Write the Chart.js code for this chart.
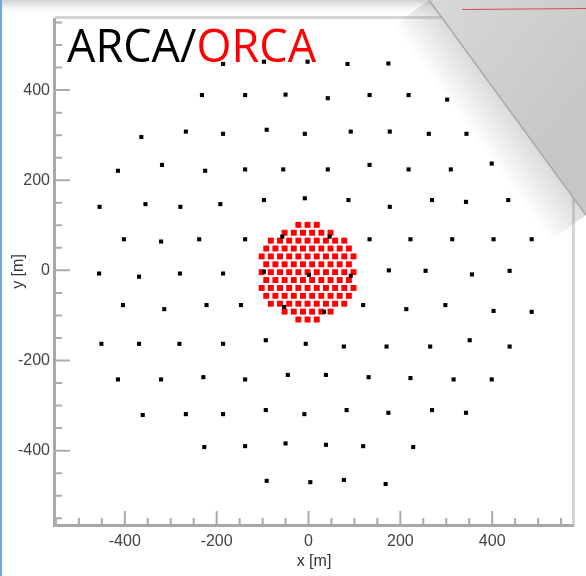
<!DOCTYPE html>
<html><head><meta charset="utf-8">
<script src="https://cdn.jsdelivr.net/npm/chart.js@4/dist/chart.umd.min.js"></script>
<style>html,body{margin:0;padding:0;background:#fff;overflow:hidden}#wrap{width:586px;height:576px;position:relative}</style>
</head><body><div id="wrap"><canvas id="c" width="586" height="576"></canvas></div>
<script>
// ARCA detection units (black), x and y in metres
const arcaX = [
  -186, -97, -2, 85, 174,
  -232, -138, -50, 42, 133, 218, 302,
  -364, -267, -186, -91, -8, 92, 177, 262, 344,
  -415, -319, -225, -138, -55, 42, 133, 218, 310, 399,
  -455, -355, -279, -192, -97, -8, 87, 177, 269, 343, 435,
  -402, -321, -238, -138, -57, 46, 133, 222, 313, 403, 486,
  -456, -369, -280, -186, -97, 1, 92, 175, 255, 356, 438,
  -404, -314, -222, -147, -53, 34, 119, 213, 298, 403, 486,
  -451, -369, -281, -186, -93, -6, 77, 170, 265, 351, 438,
  -415, -321, -229, -138, -45, 38, 131, 222, 316, 399,
  -361, -267, -186, -93, -9, 83, 174, 269, 343,
  -227, -138, -50, 38, 119, 228,
  -91, 4, 77, 168
];
const arcaY = [
  458, 463, 463, 458, 459,
  389, 389, 390, 382, 389, 389, 379,
  296, 308, 303, 312, 303, 308, 308, 303, 303,
  221, 234, 221, 224, 224, 224, 234, 224, 224, 237,
  141, 147, 141, 147, 156, 160, 156, 141, 156, 152, 156,
  69, 64, 69, 69, 75, 75, 69, 69, 69, 69, 69,
  -7, -14, -7, -7, -3, -10, -12, 0, -1, -9, -1,
  -77, -86, -77, -77, -81, -92, -77, -86, -77, -90, -92,
  -163, -163, -163, -163, -155, -163, -169, -169, -169, -155, -169,
  -242, -242, -237, -242, -232, -232, -237, -239, -242, -242,
  -321, -319, -319, -310, -319, -310, -316, -310, -316,
  -392, -390, -384, -387, -390, -392,
  -467, -470, -465, -474
];
// ORCA detection units (red), x and y in metres
const orcaX = [
  -22, -2, 18,
  -52, -32, -12, 8, 28, 48,
  -82, -62, -42, -22, -2, 18, 38, 58, 78,
  -92, -72, -52, -32, -12, 8, 28, 48, 68, 88,
  -102, -82, -62, -42, -22, -2, 18, 38, 58, 78, 98,
  -92, -72, -52, -32, -12, 8, 28, 48, 68, 88,
  -102, -82, -62, -42, -22, -2, 18, 38, 58, 78, 98,
  -92, -72, -52, -32, -12, 8, 28, 48, 68, 88,
  -102, -82, -62, -42, -22, -2, 18, 38, 58, 78, 98,
  -92, -72, -52, -32, -12, 8, 28, 48, 68, 88,
  -82, -62, -42, -22, -2, 18, 38, 58, 78,
  -52, -32, -12, 8, 28, 48,
  -22, -2, 18
];
const orcaY = [
  101, 101, 101,
  83.5, 83.5, 83.5, 83.5, 83.5, 83.5,
  66, 66, 66, 66, 66, 66, 66, 66, 66,
  48.5, 48.5, 48.5, 48.5, 48.5, 48.5, 48.5, 48.5, 48.5, 48.5,
  31, 31, 31, 31, 31, 31, 31, 31, 31, 31, 31,
  13.5, 13.5, 13.5, 13.5, 13.5, 13.5, 13.5, 13.5, 13.5, 13.5,
  -4, -4, -4, -4, -4, -4, -4, -4, -4, -4, -4,
  -21.5, -21.5, -21.5, -21.5, -21.5, -21.5, -21.5, -21.5, -21.5, -21.5,
  -39, -39, -39, -39, -39, -39, -39, -39, -39, -39, -39,
  -56.5, -56.5, -56.5, -56.5, -56.5, -56.5, -56.5, -56.5, -56.5, -56.5,
  -74, -74, -74, -74, -74, -74, -74, -74, -74,
  -91.5, -91.5, -91.5, -91.5, -91.5, -91.5,
  -109, -109, -109
];
const xTicks = [-400, -200, 0, 200, 400];
const yTicks = [-400, -200, 0, 200, 400];
const xRange = [-552, 576];
const yRange = [-565, 560];
const minorStep = 50;
const titleBlack = 'ARCA/';
const titleRed = 'ORCA';

const zip = (xs, ys) => xs.map((x, i) => ({x: x, y: ys[i]}));

const deco = {
  id: 'deco',
  beforeDraw(chart) {
    const ctx = chart.ctx;
    ctx.save();
    ctx.fillStyle = '#fff';
    ctx.fillRect(0, 0, chart.width, chart.height);
    const g = ctx.createLinearGradient(0, 0, 0, 16);
    g.addColorStop(0, '#cfcfcf');
    g.addColorStop(1, 'rgba(255,255,255,0)');
    ctx.fillStyle = g;
    ctx.fillRect(0, 0, chart.width, 16);
    ctx.fillStyle = '#6fa8dc';
    ctx.fillRect(0, 0, 2, chart.height);
    ctx.restore();
  },
  afterDraw(chart) {
    const ctx = chart.ctx;
    const a = chart.chartArea;
    const xs = chart.scales.x, ys = chart.scales.y;
    ctx.save();
    // frame
    ctx.fillStyle = '#d4d4d4';
    ctx.fillRect(a.left, a.top - 2, a.right - a.left + 2, 3);
    ctx.fillRect(a.right - 1, a.top - 2, 3, a.bottom - a.top + 2);
    ctx.fillStyle = '#a8a8a8';
    ctx.fillRect(a.left - 2, a.top, 3, a.bottom - a.top + 2);
    ctx.fillRect(a.left - 2, a.bottom - 1, a.right - a.left + 3, 3);
    // inward ticks
    ctx.strokeStyle = '#aaaaaa';
    ctx.lineWidth = 2;
    ctx.beginPath();
    for (let v = Math.ceil(xRange[0] / minorStep) * minorStep; v <= xRange[1]; v += minorStep) {
      const p = xs.getPixelForValue(v);
      const len = (v % 200 === 0) ? 14 : 7;
      ctx.moveTo(p, a.bottom); ctx.lineTo(p, a.bottom - len);
    }
    for (let v = Math.ceil(yRange[0] / minorStep) * minorStep; v <= yRange[1]; v += minorStep) {
      const p = ys.getPixelForValue(v);
      const len = (v % 200 === 0) ? 15 : 7;
      ctx.moveTo(a.left, p); ctx.lineTo(a.left + len, p);
    }
    ctx.stroke();
    // title
    ctx.font = '45px "Open Sans", "Noto Sans", sans-serif';
    ctx.textBaseline = 'alphabetic';
    ctx.textAlign = 'left';
    ctx.fillStyle = '#000';
    ctx.fillText(titleBlack, 67, 62);
    const w = ctx.measureText(titleBlack).width;
    ctx.fillStyle = '#ff0000';
    ctx.fillText(titleRed, 67 + w, 62);
    // page curl
    const P1 = [429, 0], P2 = [586, 215];
    const n = [-0.807, 0.59];
    const sh = ctx.createLinearGradient((P1[0]+P2[0])/2, (P1[1]+P2[1])/2, (P1[0]+P2[0])/2 + n[0]*45, (P1[1]+P2[1])/2 + n[1]*45);
    sh.addColorStop(0, 'rgba(150,150,150,0.35)');
    sh.addColorStop(1, 'rgba(150,150,150,0)');
    ctx.fillStyle = sh;
    ctx.beginPath();
    ctx.moveTo(P1[0], P1[1]); ctx.lineTo(P2[0], P2[1]);
    ctx.lineTo(P2[0] + n[0]*45, P2[1] + n[1]*45); ctx.lineTo(P1[0] + n[0]*45, P1[1] + n[1]*45);
    ctx.closePath(); ctx.fill();
    const cg = ctx.createLinearGradient(P1[0], 0, 586, 120);
    cg.addColorStop(0, '#d8d8d8');
    cg.addColorStop(1, '#c6c6c6');
    ctx.fillStyle = cg;
    ctx.beginPath();
    ctx.moveTo(P1[0], P1[1]); ctx.lineTo(P2[0], P2[1]); ctx.lineTo(586, 0); ctx.closePath(); ctx.fill();
    ctx.strokeStyle = '#a9a9a9'; ctx.lineWidth = 1.5;
    ctx.beginPath(); ctx.moveTo(P1[0], P1[1]); ctx.lineTo(P2[0], P2[1]); ctx.stroke();
    ctx.strokeStyle = '#d05050'; ctx.lineWidth = 1;
    ctx.beginPath(); ctx.moveTo(462, 9.5); ctx.lineTo(586, 8.5); ctx.stroke();
    ctx.restore();
  }
};

new Chart(document.getElementById('c'), {
  type: 'scatter',
  data: {
    datasets: [
      { label: 'ARCA', data: zip(arcaX, arcaY), backgroundColor: '#000', borderWidth: 0,
        pointStyle: 'rect', pointRadius: 2.9, order: 0 },
      { label: 'ORCA', data: zip(orcaX, orcaY), backgroundColor: '#ff0000', borderWidth: 0,
        pointStyle: 'rect', pointRadius: 4.2, order: 1 }
    ]
  },
  options: {
    responsive: false, animation: false, devicePixelRatio: 1,
    layout: { padding: { left: 0, right: 13, top: 18, bottom: 0 } },
    plugins: { legend: { display: false }, tooltip: { enabled: false } },
    scales: {
      x: {
        type: 'linear', min: xRange[0], max: xRange[1],
        grid: { display: false, drawTicks: false }, border: { display: false },
        afterBuildTicks: s => { s.ticks = xTicks.map(v => ({ value: v })); },
        afterFit: s => { s.height = 51; },
        ticks: { padding: 7, color: '#444', font: { family: '"Liberation Sans", Arial, sans-serif', size: 16 }, maxRotation: 0 },
        title: { display: true, text: 'x [m]', color: '#333', padding: { top: 0, bottom: 5 },
          font: { family: '"Liberation Sans", Arial, sans-serif', size: 16 } }
      },
      y: {
        type: 'linear', min: yRange[0], max: yRange[1],
        grid: { display: false, drawTicks: false }, border: { display: false },
        afterBuildTicks: s => { s.ticks = yTicks.map(v => ({ value: v })); },
        afterFit: s => { s.width = 55; },
        ticks: { padding: 5, color: '#444', font: { family: '"Liberation Sans", Arial, sans-serif', size: 16 } },
        title: { display: true, text: 'y [m]', color: '#333', padding: { top: 9, bottom: 0 },
          font: { family: '"Liberation Sans", Arial, sans-serif', size: 16 } }
      }
    }
  },
  plugins: [deco]
});
</script>
</body></html>
